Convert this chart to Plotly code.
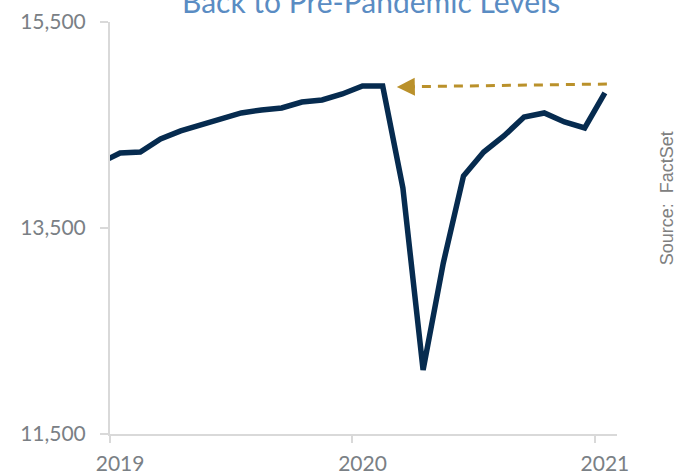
import plotly.graph_objects as go

# ---- data ----
months = ["2018-12",
          "2019-01", "2019-02", "2019-03", "2019-04", "2019-05", "2019-06",
          "2019-07", "2019-08", "2019-09", "2019-10", "2019-11", "2019-12",
          "2020-01", "2020-02", "2020-03", "2020-04", "2020-05", "2020-06",
          "2020-07", "2020-08", "2020-09", "2020-10", "2020-11", "2020-12",
          "2021-01"]
values = [14131,
          14228, 14238, 14364, 14442, 14500, 14558,
          14617, 14646, 14665, 14723, 14743, 14801,
          14879, 14879, 13888, 12121, 13160, 14005,
          14238, 14393, 14578, 14617, 14529, 14471,
          14811]
year_ticks = ["2019-01", "2020-01", "2021-01"]
year_labels = ["2019", "2020", "2021"]
y_ticks = [11500, 13500, 15500]
y_labels = ["11,500", "13,500", "15,500"]
title_text = "Back to Pre-Pandemic Levels"
source_text = "Source:  FactSet"

# arrow (annotation) endpoints in data units
arrow_start = ("2021-01", 14898)   # right end of dashed line
arrow_tip = ("2020-02", 14869)     # arrow points back to pre-pandemic peak


def midx(m, frac=0.0):
    y, mo = m.split("-")
    return (int(y) - 2019) * 12 + int(mo) - 1 + frac


x = [midx(m) for m in months]

NAVY = "#062B4F"
GOLD = "#BA912B"
GREY_TXT = "#7A8085"
AXIS = "#D9D9D9"
FONT = "Lato"

fig = go.Figure()
fig.add_trace(go.Scatter(
    x=x, y=values, mode="lines",
    line=dict(color=NAVY, width=5.5, shape="linear"),
    hoverinfo="skip", showlegend=False,
))

tip_x = midx(arrow_tip[0], 0.7)
tail_x = tip_x + 0.7
start_x = midx(arrow_start[0], 0.1)

fig.add_shape(type="line", xref="x", yref="y",
              x0=start_x, y0=arrow_start[1], x1=tail_x, y1=arrow_tip[1] + 3,
              line=dict(color=GOLD, width=3, dash="9px,7px"))
fig.add_annotation(x=tip_x, y=arrow_tip[1], ax=tail_x + 0.1, ay=arrow_tip[1] + 3,
                   xref="x", yref="y", axref="x", ayref="y",
                   text="", showarrow=True, arrowhead=2, arrowsize=1.2,
                   arrowwidth=3, arrowcolor=GOLD, standoff=0, startstandoff=0)

# title (partially cut at top as in reference)
fig.add_annotation(text=title_text, xref="paper", yref="paper",
                   x=0.515, y=1.0, yanchor="bottom", xanchor="center",
                   yshift=1, showarrow=False,
                   font=dict(family=FONT, size=30, color="#5A8CC3"))

# source text rotated
fig.add_annotation(text=source_text, xref="paper", yref="paper",
                   x=1.0, y=0.572, xanchor="center", yanchor="middle",
                   xshift=50, textangle=-90, showarrow=False,
                   font=dict(family="Liberation Sans", size=18, color="#808080"))

fig.update_layout(
    width=684, height=475,
    margin=dict(l=110, r=67, t=22, b=41, autoexpand=False),
    paper_bgcolor="white", plot_bgcolor="white",
    font=dict(family=FONT, color=GREY_TXT, size=21),
    showlegend=False,
)
fig.update_xaxes(
    range=[-0.5, 24.6], automargin=False,
    tickmode="array", tickvals=[midx(m) for m in year_ticks], ticktext=year_labels,
    ticks="", ticklen=0,
    minor=dict(tickmode="linear", tick0=-0.5, dtick=12, ticks="outside",
               ticklen=7, tickcolor=AXIS, tickwidth=2, showgrid=False),
    showline=True, linecolor=AXIS, linewidth=2,
    showgrid=False, zeroline=False,
    tickfont=dict(family=FONT, size=21, color=GREY_TXT),
    ticklabelstandoff=10,
)
fig.update_yaxes(
    range=[11500, 15500], automargin=False,
    tickmode="array", tickvals=y_ticks, ticktext=y_labels,
    ticks="outside", ticklen=8, tickcolor=AXIS, tickwidth=2,
    showline=True, linecolor=AXIS, linewidth=2,
    showgrid=False, zeroline=False,
    tickfont=dict(family=FONT, size=21, color=GREY_TXT),
    ticklabelstandoff=10,
)

fig.write_html("out.html")
